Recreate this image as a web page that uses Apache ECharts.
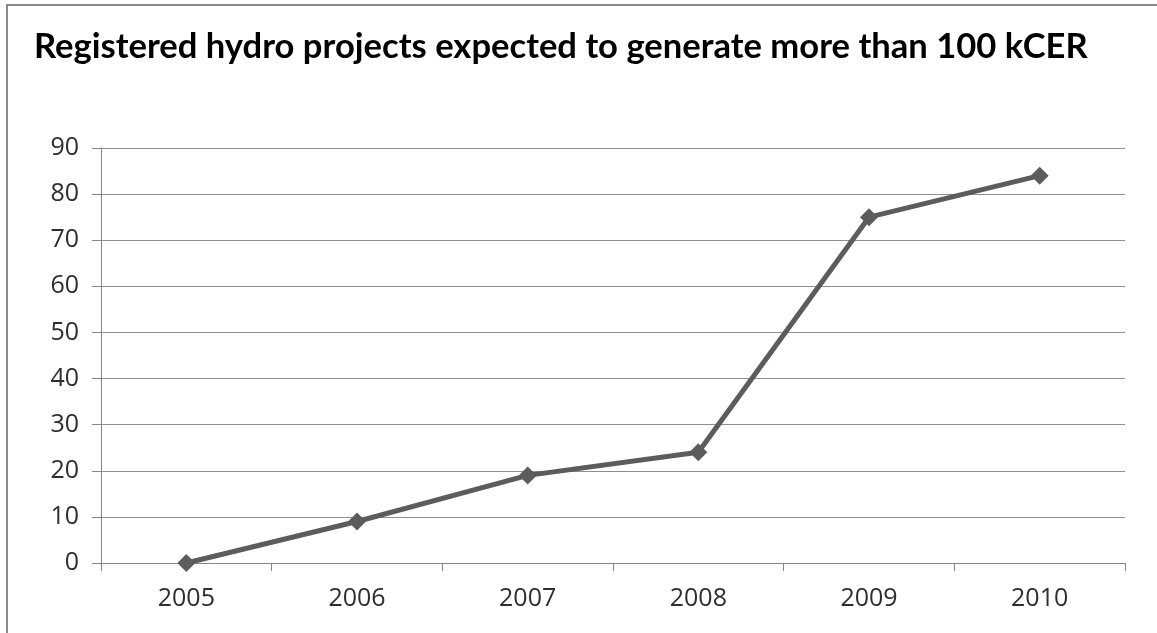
<!DOCTYPE html>
<html>
<head>
<meta charset="utf-8">
<script src="https://cdn.jsdelivr.net/npm/echarts@6/dist/echarts.min.js"></script>
<style>
  html,body{margin:0;padding:0;background:#fff;}
  #chart{width:1157px;height:633px;}
</style>
</head>
<body>
<div id="chart"></div>
<script>
// chart data
const titleText = 'Registered hydro projects expected to generate more than 100 kCER';
const years = ['2005', '2006', '2007', '2008', '2009', '2010'];
const projects = [0, 9, 19, 24, 75, 84];
const yTicks = [0, 90, 10]; // min, max, interval

const chart = echarts.init(document.getElementById('chart'), null, {renderer: 'canvas'});

chart.setOption({
  backgroundColor: '#ffffff',
  animation: false,
  graphic: [
    {
      type: 'rect',
      shape: {x: 7, y: 5, width: 1300, height: 800},
      style: {fill: 'none', stroke: '#8a8a8a', lineWidth: 2},
      silent: true
    },
    {
      type: 'text',
      left: 34,
      top: 29,
      style: {
        text: titleText,
        fill: '#000000',
        font: 'bold 34.6px Lato'
      }
    }
  ],
  grid: {left: 101, right: 32, top: 148, bottom: 70, containLabel: false},
  xAxis: {
    type: 'category',
    data: years,
    boundaryGap: true,
    axisLine: {lineStyle: {color: '#878787', width: 1}},
    axisTick: {show: true, length: 8, interval: 0, lineStyle: {color: '#878787'}},
    axisLabel: {margin: 23, color: '#2e2e2e', fontSize: 25, fontFamily: 'Open Sans'},
    splitLine: {show: false}
  },
  yAxis: {
    type: 'value',
    min: yTicks[0],
    max: yTicks[1],
    interval: yTicks[2],
    axisLine: {show: true, lineStyle: {color: '#878787', width: 1}},
    axisTick: {show: true, length: 9, lineStyle: {color: '#878787'}},
    axisLabel: {margin: 22, color: '#2e2e2e', fontSize: 25, fontFamily: 'Open Sans'},
    splitLine: {show: true, lineStyle: {color: '#8f8f8f', width: 1}}
  },
  series: [
    {
      type: 'line',
      data: projects,
      symbol: 'diamond',
      symbolSize: 18,
      lineStyle: {color: '#5c5c5c', width: 5},
      itemStyle: {color: '#5c5c5c'}
    }
  ]
});
</script>
</body>
</html>
